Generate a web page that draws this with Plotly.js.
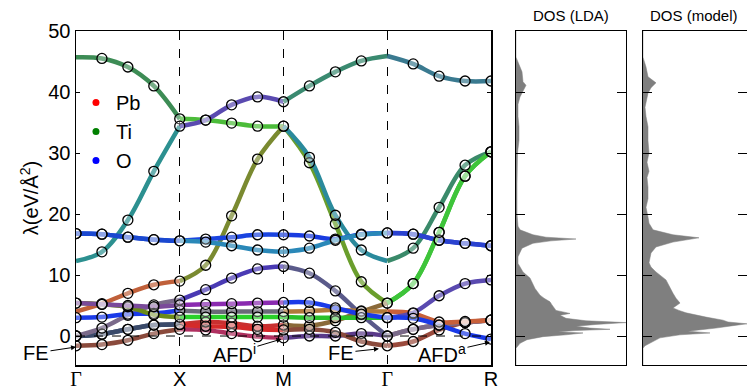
<!DOCTYPE html>
<html>
<head>
<meta charset="utf-8">
<script src="https://cdn.plot.ly/plotly-3.0.1.min.js"></script>
<style>html,body{margin:0;padding:0;background:#fff;}#plot{width:747px;height:390px;}</style>
</head>
<body>
<div id="plot"></div>
<script>
// ---- k-path (quarter points along Γ-X-M-Γ-R) ----
const kpos = [0,0.25,0.5,0.75,1, 1.25,1.5,1.75,2, 2.25,2.5,2.75,3, 3.25,3.5,3.75,4];
const kTickVals = [0,1,2,3,4];
const kTickText = ['Γ','X','M','Γ','R'];

// ---- band eigenvalues λ (eV/Å²) at each k point ----
const bandC1 = [45.7,45.5,44.1,41.0,35.6, 35.4,34.9,34.4,34.4, 28.4,18.4,8.9,5.4, 8.6,17.0,26.2,30.2];
const bandC2 = [12.3,13.8,19.0,27.0,34.4, 35.4,37.9,39.2,38.4, 41.0,43.3,45.1,45.9, 44.6,42.6,41.8,41.8];
const bandC3 = [4.0,5.3,7.0,8.4,9.0, 11.6,19.7,29.0,34.4, 29.3,19.8,14.1,12.3, 14.4,21.1,28.0,30.2];
const bandD1 = [16.8,16.7,16.2,15.8,15.6, 15.9,16.2,16.6,16.6, 16.4,15.9,16.7,16.9, 16.7,15.7,15.2,14.8];
const bandD2 = [16.8,16.7,16.2,15.8,15.6, 15.4,14.8,14.1,13.8, 14.4,15.7,16.6,16.9, 16.7,15.7,15.2,14.8];
const bandL1 = [-1.6,-1.4,-0.7,0.4,1.1, 1.0,0.4,-0.1,-0.3, 0.0,0.0,0.4,0.0, 1.1,1.8,2.2,2.6];
const bandL2a = [0.0,0.3,1.1,1.8,1.9, 2.3,2.1,1.6,1.8, 1.7,2.5,4.0,5.4, 8.6,17.0,26.2,30.2];
const bandL2b = [0.0,0.3,1.1,1.8,1.9, 1.6,1.5,1.1,1.0, 1.1,0.6,-0.9,-1.6, -0.9,1.0,2.2,2.6];
const bandL3 = [0.0,1.3,3.4,5.1,5.9, 7.6,9.5,11.0,11.4, 10.3,7.4,3.5,0.0, 1.1,1.8,2.2,2.6];
const bandL4 = [3.0,3.1,3.6,3.7,4.2, 4.0,4.0,4.0,4.0, 4.1,4.3,4.1,4.0, 3.7,2.3,2.4,2.6];
const bandL5 = [5.4,5.2,4.8,3.5,3.1, 3.1,3.1,3.1,3.1, 3.0,3.0,3.0,3.0, 3.8,6.6,8.6,9.2];
const bandL6 = [5.4,5.2,5.0,4.8,5.1, 5.2,5.3,5.4,5.5, 5.5,4.6,3.6,3.0, 2.9,1.8,0.4,-0.5];

// points where the model has no circle: [band name, k index]
const noModelPoint = [['C1',0],['C2',0],['C3',0],['C2',12],['C3',12],['L4',12]];

// ---- DOS (LDA) : λ grid and width ----
const dosLdaLambda = [-4.75,-2.0,-1.8,-1.2,-0.6,-0.1,0.2,0.5,0.7,0.9,1.1,1.3,1.6,1.9,2.2,2.5,2.9,3.4,3.7,4.2,5.1,5.6,6.2,6.7,7.8,9.5,10.5,11.3,11.9,13.0,13.6,14.4,15.2,15.6,15.9,16.2,16.6,17.4,18.0,20,25,30,32.1,34.3,36,38,39.2,40.3,41.1,41.7,43.3,44.5,45.7,50];
const dosLdaValue  = [0,0,1,4,11,27,50,67,42,60,94,74,60,80,110,70,50,44,54,40,36,34,28,24,19,14,7,4,2,2,4,6,17,35,60,30,17,4,2,1,1,1.5,3,3,2,2,4,7,10,7,6,3,0,0];
// ---- DOS (model) ----
const dosModelLambda = [-4.75,-2.0,-1.6,-1.2,-0.3,0.2,0.5,0.8,1.0,1.3,1.7,2.0,2.3,2.6,3.1,3.8,4.2,4.6,5.4,6.2,7.0,8.0,9.2,10.5,11.3,12.0,13.6,14.6,15.4,16.1,16.6,17.4,18.5,19.5,21.1,22.5,24.4,26,27,28.5,30,32,34.3,36,37.5,39.8,40.7,41.5,42.5,44.1,45.7,50];
const dosModelValue  = [0,0,2,7,17,37,67,45,57,73,90,104,85,80,63,43,36,30,37,33,30,27,23,13,8,6,8,13,30,56,30,10,6,5,3,5,5,4,6,4,6,5,5,3,2,5,8,13,5,3,0,0];

// ---- styles ----
const bandList = [
  ['C1',bandC1],['C2',bandC2],['C3',bandC3],['D1',bandD1],['D2',bandD2],
  ['L1',bandL1],['L2a',bandL2a],['L2b',bandL2b],['L3',bandL3],['L4',bandL4],['L5',bandL5],['L6',bandL6]
];
const segColors = {
  C1: ['#3d8c55','#4cbc3a','#6a9e2c','#3ec43a'],
  C2: ['#2c9090','#5a4ab0','#3a8a70','#3a7a90'],
  C3: ['#c0603a','#7a8a30','#2a8a9c','#3a8a6a'],
  D1: ['#1a48d0','#1a44e0','#1a3ce0','#2a42d0'],
  D2: ['#1a48d0','#2a88b8','#2a88b8','#2a42d0'],
  L1: ['#8a4a3c','#b03060','#5a3a8a','#8a5a6a'],
  L2a:['#3a4a6a','#c83030','#8a6a3a','#3ec43a'],
  L2b:['#3a4a6a','#d42a2a','#8a4a3c','#9a4a3c'],
  L3: ['#7a6a8a','#4a3ab4','#5a5a8a','#7a6a8a'],
  L4: ['#1a3ae8','#6a6a78','#b07a3a','#c8603a'],
  L5: ['#6a8a1a','#2ad02a','#2ac02a','#5a4ab0'],
  L6: ['#7a4a9a','#8a2ab0','#1a3ae8','#1a3ae8']
};

const traces = [];
// band lines, one trace per band per path segment
bandList.forEach(([name, vals]) => {
  for (let s = 0; s < 4; s++) {
    traces.push({
      x: kpos.slice(4*s, 4*s+5), y: vals.slice(4*s, 4*s+5),
      mode: 'lines', line: {color: segColors[name][s], width: 4.5, shape: 'spline'},
      showlegend: false, hoverinfo: 'skip', xaxis: 'x', yaxis: 'y'
    });
  }
});
// model circles
const cx = [], cy = [];
bandList.forEach(([name, vals]) => {
  vals.forEach((v, i) => {
    if (noModelPoint.some(p => p[0] === name && p[1] === i)) return;
    cx.push(kpos[i]); cy.push(v);
  });
});
traces.push({x: cx, y: cy, mode: 'markers', showlegend: false, hoverinfo: 'skip',
  marker: {symbol: 'circle', size: 10, color: 'rgba(255,255,255,0.3)', line: {color: '#000', width: 1.3}},
  xaxis: 'x', yaxis: 'y'});
// legend entries
[['Pb','#ff0000'],['Ti','#008000'],['O','#0000ff']].forEach(([n,c]) => {
  traces.push({x: [null], y: [null], name: n, mode: 'markers', marker: {color: c, size: 7}, xaxis: 'x', yaxis: 'y'});
});
// DOS panels
traces.push({x: dosLdaValue, y: dosLdaLambda, mode: 'lines', fill: 'tozerox', fillcolor: '#7f7f7f',
  line: {color: '#7f7f7f', width: 0.5}, showlegend: false, hoverinfo: 'skip', xaxis: 'x2', yaxis: 'y2'});
traces.push({x: dosModelValue, y: dosModelLambda, mode: 'lines', fill: 'tozerox', fillcolor: '#7f7f7f',
  line: {color: '#7f7f7f', width: 0.5}, showlegend: false, hoverinfo: 'skip', xaxis: 'x3', yaxis: 'y3'});

const FONT = 'Liberation Sans, Arial, Helvetica, sans-serif';
const yDom = [25/390, 359/390];
const yRange = [-4.75, 50];
const ticktext = kTickText.map(t => t === 'Γ' ? '<span style="font-family:\'Liberation Serif\'">Γ</span>' : t);

const annFont = {family: FONT, size: 20, color: '#000'};
const arrowOpts = {showarrow: true, arrowhead: 2, arrowsize: 1, arrowwidth: 1, arrowcolor: '#000', font: annFont, xanchor: 'center', yanchor: 'middle'};
const layout = {
  width: 747, height: 390,
  margin: {l: 0, r: 0, t: 0, b: 0},
  paper_bgcolor: '#fff', plot_bgcolor: 'rgba(0,0,0,0)',
  font: {family: FONT, color: '#000'},
  showlegend: true,
  legend: {x: 0.1017, y: 0.787, xanchor: 'left', yanchor: 'top', bgcolor: 'rgba(0,0,0,0)',
    font: {family: FONT, size: 20}, itemwidth: 30, tracegroupgap: 0},
  xaxis: {domain: [76/747, 491/747], range: [0, 4], tickvals: kTickVals, ticktext: ticktext,
    showgrid: true, griddash: 'dash', gridcolor: '#000', gridwidth: 1,
    showline: true, mirror: true, linecolor: '#000', linewidth: 1.5, ticks: '',
    ticklabelstandoff: -5,
    tickfont: {family: FONT, size: 20}, zeroline: false, fixedrange: true},
  yaxis: {domain: yDom, range: yRange, tickvals: [0,10,20,30,40,50],
    ticks: 'inside', ticklen: 4, tickcolor: '#000', mirror: 'ticks', showline: true, linecolor: '#000', linewidth: 1.5,
    tickfont: {family: FONT, size: 20}, showgrid: false, zeroline: false,
    title: {text: 'λ(eV/Å<sup>2</sup>)', font: {family: FONT, size: 20}, standoff: 4}},
  xaxis2: {domain: [516/747, 626/747], range: [0, 110], anchor: 'y2', showticklabels: false, ticks: '',
    showline: true, mirror: true, linecolor: '#000', linewidth: 1, showgrid: false, zeroline: false},
  yaxis2: {domain: yDom, range: yRange, anchor: 'x2', tickvals: [0,10,20,30,40], ticks: 'inside', ticklen: 9,
    tickcolor: '#000', mirror: 'ticks', showticklabels: false, showline: true, linecolor: '#000', linewidth: 1,
    showgrid: false, zeroline: false},
  xaxis3: {domain: [643/747, 1], range: [0, 104], anchor: 'y3', showticklabels: false, ticks: '',
    showline: true, mirror: true, linecolor: '#000', linewidth: 1, showgrid: false, zeroline: false},
  yaxis3: {domain: yDom, range: yRange, anchor: 'x3', tickvals: [0,10,20,30,40], ticks: 'inside', ticklen: 9,
    tickcolor: '#000', mirror: 'ticks', showticklabels: false, showline: true, linecolor: '#000', linewidth: 1,
    showgrid: false, zeroline: false},
  shapes: [
    {type: 'line', xref: 'x', yref: 'y', x0: 0, x1: 4, y0: 0, y1: 0, line: {color: '#000', width: 1, dash: 'dash'}}
  ],
  annotations: [
    Object.assign({xref: 'x', yref: 'y', x: 0, y: -1.8, ax: -40, ay: 6, text: 'FE'}, arrowOpts),
    Object.assign({xref: 'x', yref: 'y', x: 1.98, y: -0.5, ax: -47, ay: 14, text: 'AFD<sup>i</sup>'}, arrowOpts),
    Object.assign({xref: 'x', yref: 'y', x: 2.92, y: -2.1, ax: -38, ay: 4, text: 'FE'}, arrowOpts),
    Object.assign({xref: 'x', yref: 'y', x: 3.99, y: -1.0, ax: -48, ay: 11, text: 'AFD<sup>a</sup>'}, arrowOpts),
    {xref: 'paper', yref: 'paper', x: 571/747, y: (390-16)/390, xanchor: 'center', yanchor: 'middle', text: 'DOS (LDA)', showarrow: false, font: {family: FONT, size: 15}},
    {xref: 'paper', yref: 'paper', x: 694/747, y: (390-16)/390, xanchor: 'center', yanchor: 'middle', text: 'DOS (model)', showarrow: false, font: {family: FONT, size: 15}}
  ]
};

Plotly.newPlot('plot', traces, layout, {displayModeBar: false, staticPlot: true});
</script>
</body>
</html>
